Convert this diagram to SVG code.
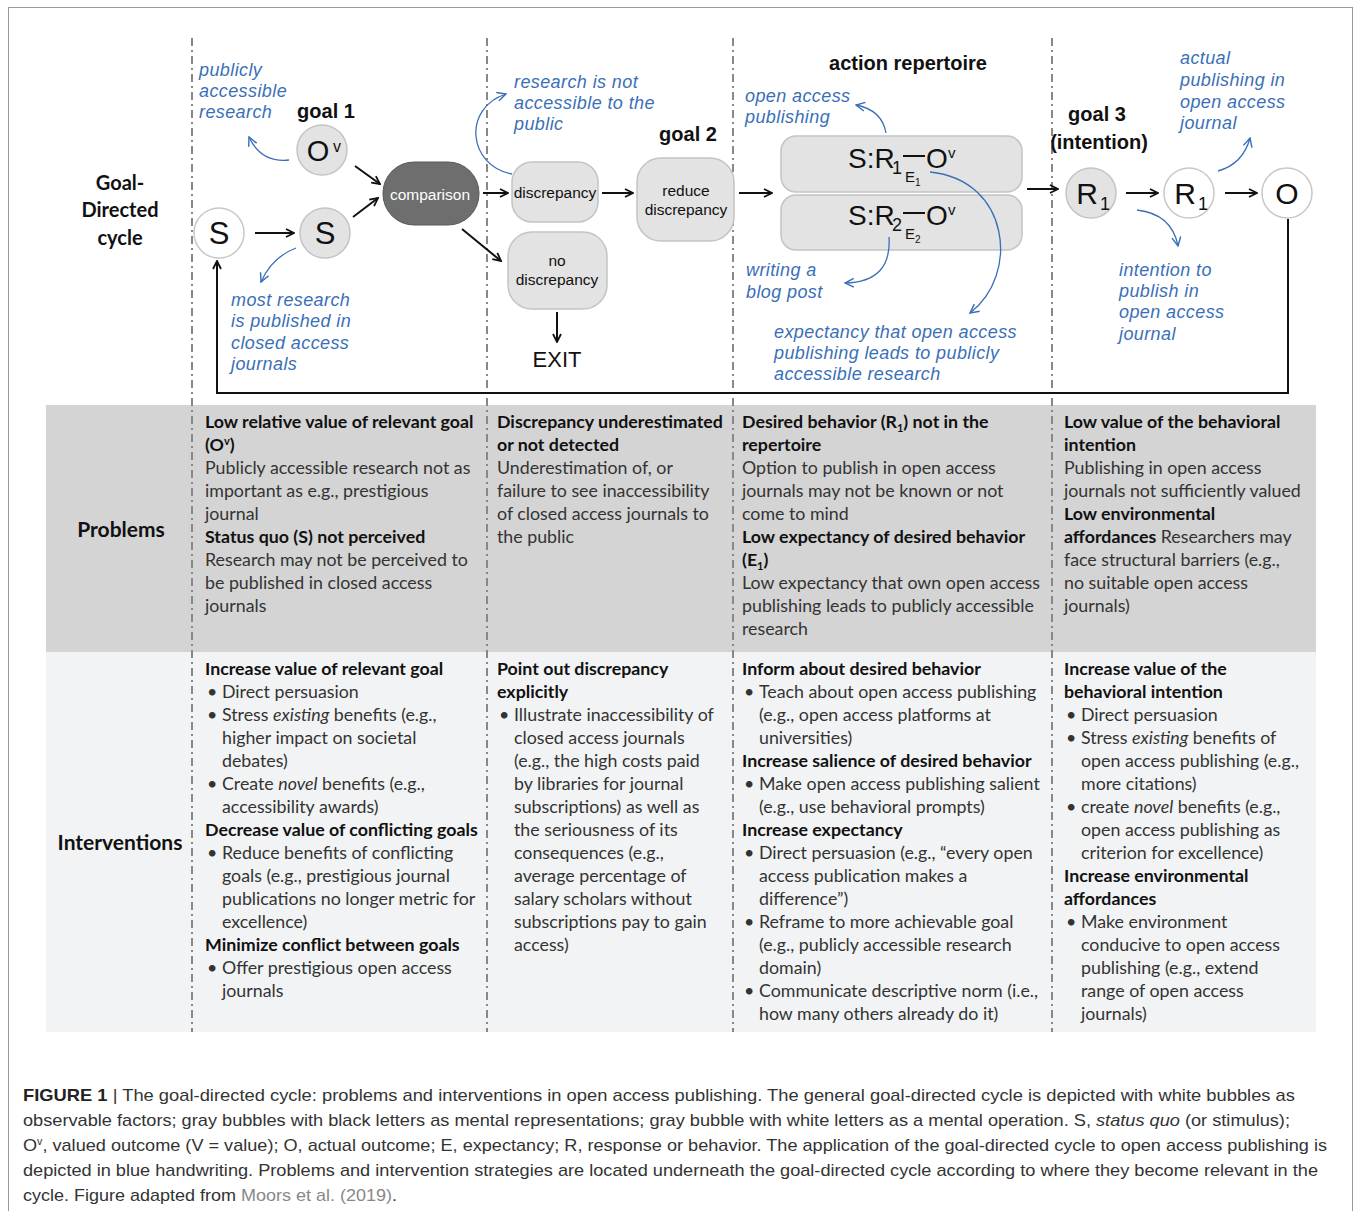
<svg xmlns="http://www.w3.org/2000/svg" width="1356" height="1211" viewBox="0 0 1356 1211">
<defs>
<style>
.t{font-family:Lato,"Open Sans",sans-serif;font-size:17.8px;fill:#333}
.b{font-weight:bold;fill:#111}
.lbl{font-family:Lato,"Open Sans",sans-serif;font-weight:bold;font-size:21px;fill:#111}
.h{font-family:"Liberation Sans",Arial,sans-serif;fill:#111}
.hb{font-family:"Liberation Sans",Arial,sans-serif;font-weight:bold;fill:#111}
.blue{font-family:"Liberation Sans",Arial,sans-serif;font-style:italic;font-size:18px;letter-spacing:0.4px;fill:#3a6fb8}
.cap{font-family:"Liberation Sans",Arial,sans-serif;font-size:17px;fill:#333}
.dash{stroke:#888;stroke-width:2;stroke-dasharray:8 4 2 4;fill:none}
.wc{fill:#fff;stroke:#c8c8c8;stroke-width:1.5}
.gc{fill:#e3e3e3;stroke:#c4c4c4;stroke-width:1.5}
.con{stroke:#111;stroke-width:2;fill:none;marker-end:url(#ah)}
.bc{stroke:#3a6fb8;stroke-width:1.3;fill:none;marker-end:url(#bh)}
</style>
<marker id="ah" viewBox="0 0 10 10" refX="9" refY="5" markerWidth="10" markerHeight="10" markerUnits="userSpaceOnUse" orient="auto"><path d="M1,1 L9,5 L1,9" fill="none" stroke="#111" stroke-width="1.8"/></marker>
<marker id="bh" viewBox="0 0 10 10" refX="9" refY="5" markerWidth="11" markerHeight="11" markerUnits="userSpaceOnUse" orient="auto"><path d="M1,1 L9,5 L1,9" fill="none" stroke="#3a6fb8" stroke-width="1.3"/></marker>
</defs>
<rect x="0" y="0" width="1356" height="1211" fill="#fff"/>
<rect x="8.5" y="7.5" width="1344" height="1220" fill="none" stroke="#999" stroke-width="1"/>
<!-- bands -->
<rect x="46" y="405" width="1270" height="247" fill="#d4d4d4"/>
<rect x="46" y="652" width="1270" height="380" fill="#f2f3f4"/>
<!-- dashed column separators -->
<g id="separators">
<line class="dash" x1="192" y1="38" x2="192" y2="1032"/>
<line class="dash" x1="487" y1="38" x2="487" y2="1032"/>
<line class="dash" x1="733" y1="38" x2="733" y2="1032"/>
<line class="dash" x1="1052" y1="38" x2="1052" y2="1032"/>
</g>
<!-- row labels -->
<g id="row-labels">
<text class="lbl" text-anchor="middle" x="120" y="190" style="font-size:20px">Goal-</text>
<text class="lbl" text-anchor="middle" x="120" y="217" style="font-size:20px">Directed</text>
<text class="lbl" text-anchor="middle" x="120" y="245" style="font-size:20px">cycle</text>
<text class="lbl" text-anchor="middle" x="121" y="537">Problems</text>
<text class="lbl" text-anchor="middle" x="120" y="850">Interventions</text>
</g>
<!-- headings -->
<g id="headings">
<text class="hb" x="326" y="118" font-size="20" text-anchor="middle">goal 1</text>
<text class="hb" x="688" y="141" font-size="20" text-anchor="middle">goal 2</text>
<text class="hb" x="908" y="70" font-size="20" text-anchor="middle">action repertoire</text>
<text class="hb" x="1097" y="121" font-size="20" text-anchor="middle">goal 3</text>
<text class="hb" x="1099" y="149" font-size="20" text-anchor="middle">(intention)</text>
</g>
<!-- nodes -->
<g id="node-S-world"><circle class="wc" cx="219" cy="233" r="25"/><text class="h" x="219" y="244" font-size="31" text-anchor="middle">S</text></g>
<g id="node-S-mental"><circle class="gc" cx="325" cy="233" r="25"/><text class="h" x="325" y="244" font-size="31" text-anchor="middle">S</text></g>
<g id="node-Ov"><circle class="gc" cx="322" cy="150" r="25"/><text class="h" x="318" y="161" font-size="29" text-anchor="middle">O</text><text class="h" x="333" y="152" font-size="16">v</text></g>
<g id="node-comparison"><rect x="383" y="162" width="96" height="63" rx="31" fill="#6e6e6e" stroke="#5a5a5a" stroke-width="1"/><text class="h" x="430" y="200" font-size="15.5" text-anchor="middle" style="fill:#fff">comparison</text></g>
<g id="node-discrepancy"><rect x="512" y="162" width="86" height="60" rx="20" class="gc"/><text class="h" x="555" y="198" font-size="15.5" text-anchor="middle">discrepancy</text></g>
<g id="node-no-discrepancy"><rect x="508" y="232" width="99" height="77" rx="24" class="gc"/><text class="h" x="557" y="266" font-size="15.5" text-anchor="middle">no</text><text class="h" x="557" y="285" font-size="15.5" text-anchor="middle">discrepancy</text></g>
<g id="node-exit"><text class="h" x="557" y="367" font-size="22" text-anchor="middle">EXIT</text></g>
<g id="node-reduce"><rect x="637" y="158" width="97" height="83" rx="24" class="gc"/><text class="h" x="686" y="196" font-size="15.5" text-anchor="middle">reduce</text><text class="h" x="686" y="215" font-size="15.5" text-anchor="middle">discrepancy</text></g>
<g id="node-SR1">
<rect x="781" y="136" width="241" height="56" rx="15" class="gc"/>
<text class="h" x="848" y="168" font-size="28">S:R</text>
<text class="h" x="892" y="174" font-size="18">1</text>
<line x1="903" y1="156" x2="925" y2="156" stroke="#111" stroke-width="2"/>
<text class="h" x="926" y="168" font-size="28">O</text>
<text class="h" x="948" y="158" font-size="15">v</text>
<text class="h" x="905" y="182" font-size="15">E</text>
<text class="h" x="915" y="186" font-size="10">1</text>
</g>
<g id="node-SR2">
<rect x="781" y="195" width="241" height="55" rx="15" class="gc"/>
<text class="h" x="848" y="225" font-size="28">S:R</text>
<text class="h" x="892" y="231" font-size="18">2</text>
<line x1="903" y1="213" x2="925" y2="213" stroke="#111" stroke-width="2"/>
<text class="h" x="926" y="225" font-size="28">O</text>
<text class="h" x="948" y="215" font-size="15">v</text>
<text class="h" x="905" y="239" font-size="15">E</text>
<text class="h" x="915" y="243" font-size="10">2</text>
</g>
<g id="node-R1-intention"><circle class="gc" cx="1091" cy="193" r="25"/><text class="h" x="1087" y="204" font-size="30" text-anchor="middle">R</text><text class="h" x="1100" y="210" font-size="18">1</text></g>
<g id="node-R1-behavior"><circle class="wc" cx="1189" cy="193" r="25"/><text class="h" x="1185" y="204" font-size="30" text-anchor="middle">R</text><text class="h" x="1198" y="210" font-size="18">1</text></g>
<g id="node-O"><circle class="wc" cx="1287" cy="193" r="25"/><text class="h" x="1287" y="204" font-size="30" text-anchor="middle">O</text></g>
<!-- connectors -->
<g id="connectors">
<line class="con" x1="255" y1="233" x2="294" y2="233"/>
<line class="con" x1="355" y1="166" x2="380" y2="184"/>
<line class="con" x1="353" y1="217" x2="378" y2="198"/>
<line class="con" x1="483" y1="193" x2="508" y2="193"/>
<line class="con" x1="462" y1="229" x2="501" y2="261"/>
<line class="con" x1="602" y1="193" x2="633" y2="193"/>
<line class="con" x1="557" y1="312" x2="557" y2="342"/>
<line class="con" x1="739" y1="193" x2="772" y2="193"/>
<line class="con" x1="1027" y1="189" x2="1058" y2="189"/>
<line class="con" x1="1126" y1="193" x2="1158" y2="193"/>
<line class="con" x1="1225" y1="193" x2="1257" y2="193"/>
<path class="con" d="M1288,219 V393 H217 V261"/>
<!-- blue annotation arrows -->
<path class="bc" d="M289,160 Q261,163 249,137"/>
<path class="bc" d="M296,248 Q272,257 261,282"/>
<path class="bc" d="M512,174 C468,166 462,108 506,94"/>
<path class="bc" d="M886,133 Q882,110 856,105"/>
<path class="bc" d="M889,237 Q892,282 845,283"/>
<path class="bc" d="M930,172 C1010,180 1020,275 970,313"/>
<path class="bc" d="M1218,171 Q1243,164 1250,138"/>
<path class="bc" d="M1137,210 Q1172,214 1178,246"/>
</g>
<!-- blue handwriting -->
<g id="annotations">
<text class="blue" x="199" y="76">publicly</text>
<text class="blue" x="199" y="97">accessible</text>
<text class="blue" x="199" y="118">research</text>
<text class="blue" x="231" y="306">most research</text>
<text class="blue" x="231" y="327">is published in</text>
<text class="blue" x="231" y="349">closed access</text>
<text class="blue" x="231" y="370">journals</text>
<text class="blue" x="514" y="88">research is not</text>
<text class="blue" x="514" y="109">accessible to the</text>
<text class="blue" x="514" y="130">public</text>
<text class="blue" x="745" y="102">open access</text>
<text class="blue" x="745" y="123">publishing</text>
<text class="blue" x="746" y="276">writing a</text>
<text class="blue" x="746" y="298">blog post</text>
<text class="blue" x="774" y="338">expectancy that open access</text>
<text class="blue" x="774" y="359">publishing leads to publicly</text>
<text class="blue" x="774" y="380">accessible research</text>
<text class="blue" x="1180" y="64">actual</text>
<text class="blue" x="1180" y="86">publishing in</text>
<text class="blue" x="1180" y="108">open access</text>
<text class="blue" x="1180" y="129">journal</text>
<text class="blue" x="1119" y="276">intention to</text>
<text class="blue" x="1119" y="297">publish in</text>
<text class="blue" x="1119" y="318">open access</text>
<text class="blue" x="1119" y="340">journal</text>
</g>
<!-- problems -->
<g id="problems">
<text class="t b" x="205" y="428">Low relative value of relevant goal</text>
<text class="t b" x="205" y="451">(O<tspan font-size="11" dy="-6">v</tspan><tspan dy="6">)</tspan></text>
<text class="t" x="205" y="474">Publicly accessible research not as</text>
<text class="t" x="205" y="497">important as e.g., prestigious</text>
<text class="t" x="205" y="520">journal</text>
<text class="t b" x="205" y="543">Status quo (S) not perceived</text>
<text class="t" x="205" y="566">Research may not be perceived to</text>
<text class="t" x="205" y="589">be published in closed access</text>
<text class="t" x="205" y="612">journals</text>

<text class="t b" x="497" y="428">Discrepancy underestimated</text>
<text class="t b" x="497" y="451">or not detected</text>
<text class="t" x="497" y="474">Underestimation of, or</text>
<text class="t" x="497" y="497">failure to see inaccessibility</text>
<text class="t" x="497" y="520">of closed access journals to</text>
<text class="t" x="497" y="543">the public</text>

<text class="t b" x="742" y="428">Desired behavior (R<tspan font-size="11" dy="4">1</tspan><tspan dy="-4">) not in the</tspan></text>
<text class="t b" x="742" y="451">repertoire</text>
<text class="t" x="742" y="474">Option to publish in open access</text>
<text class="t" x="742" y="497">journals may not be known or not</text>
<text class="t" x="742" y="520">come to mind</text>
<text class="t b" x="742" y="543">Low expectancy of desired behavior</text>
<text class="t b" x="742" y="566">(E<tspan font-size="11" dy="4">1</tspan><tspan dy="-4">)</tspan></text>
<text class="t" x="742" y="589">Low expectancy that own open access</text>
<text class="t" x="742" y="612">publishing leads to publicly accessible</text>
<text class="t" x="742" y="635">research</text>

<text class="t b" x="1064" y="428">Low value of the behavioral</text>
<text class="t b" x="1064" y="451">intention</text>
<text class="t" x="1064" y="474">Publishing in open access</text>
<text class="t" x="1064" y="497">journals not sufficiently valued</text>
<text class="t b" x="1064" y="520">Low environmental</text>
<text class="t" x="1064" y="543"><tspan font-weight="bold" fill="#111">affordances</tspan> Researchers may</text>
<text class="t" x="1064" y="566">face structural barriers (e.g.,</text>
<text class="t" x="1064" y="589">no suitable open access</text>
<text class="t" x="1064" y="612">journals)</text>
</g>
<!-- interventions -->
<g id="interventions">
<text class="t b" x="205" y="675">Increase value of relevant goal</text>
<text class="t" x="207" y="698">•</text><text class="t" x="222" y="698">Direct persuasion</text>
<text class="t" x="207" y="721">•</text><text class="t" x="222" y="721">Stress <tspan font-style="italic">existing</tspan> benefits (e.g.,</text>
<text class="t" x="222" y="744">higher impact on societal</text>
<text class="t" x="222" y="767">debates)</text>
<text class="t" x="207" y="790">•</text><text class="t" x="222" y="790">Create <tspan font-style="italic">novel</tspan> benefits (e.g.,</text>
<text class="t" x="222" y="813">accessibility awards)</text>
<text class="t b" x="205" y="836">Decrease value of conflicting goals</text>
<text class="t" x="207" y="859">•</text><text class="t" x="222" y="859">Reduce benefits of conflicting</text>
<text class="t" x="222" y="882">goals (e.g., prestigious journal</text>
<text class="t" x="222" y="905">publications no longer metric for</text>
<text class="t" x="222" y="928">excellence)</text>
<text class="t b" x="205" y="951">Minimize conflict between goals</text>
<text class="t" x="207" y="974">•</text><text class="t" x="222" y="974">Offer prestigious open access</text>
<text class="t" x="222" y="997">journals</text>

<text class="t b" x="497" y="675">Point out discrepancy</text>
<text class="t b" x="497" y="698">explicitly</text>
<text class="t" x="499" y="721">•</text><text class="t" x="514" y="721">Illustrate inaccessibility of</text>
<text class="t" x="514" y="744">closed access journals</text>
<text class="t" x="514" y="767">(e.g., the high costs paid</text>
<text class="t" x="514" y="790">by libraries for journal</text>
<text class="t" x="514" y="813">subscriptions) as well as</text>
<text class="t" x="514" y="836">the seriousness of its</text>
<text class="t" x="514" y="859">consequences (e.g.,</text>
<text class="t" x="514" y="882">average percentage of</text>
<text class="t" x="514" y="905">salary scholars without</text>
<text class="t" x="514" y="928">subscriptions pay to gain</text>
<text class="t" x="514" y="951">access)</text>

<text class="t b" x="742" y="675">Inform about desired behavior</text>
<text class="t" x="744" y="698">•</text><text class="t" x="759" y="698">Teach about open access publishing</text>
<text class="t" x="759" y="721">(e.g., open access platforms at</text>
<text class="t" x="759" y="744">universities)</text>
<text class="t b" x="742" y="767">Increase salience of desired behavior</text>
<text class="t" x="744" y="790">•</text><text class="t" x="759" y="790">Make open access publishing salient</text>
<text class="t" x="759" y="813">(e.g., use behavioral prompts)</text>
<text class="t b" x="742" y="836">Increase expectancy</text>
<text class="t" x="744" y="859">•</text><text class="t" x="759" y="859">Direct persuasion (e.g., “every open</text>
<text class="t" x="759" y="882">access publication makes a</text>
<text class="t" x="759" y="905">difference”)</text>
<text class="t" x="744" y="928">•</text><text class="t" x="759" y="928">Reframe to more achievable goal</text>
<text class="t" x="759" y="951">(e.g., publicly accessible research</text>
<text class="t" x="759" y="974">domain)</text>
<text class="t" x="744" y="997">•</text><text class="t" x="759" y="997">Communicate descriptive norm (i.e.,</text>
<text class="t" x="759" y="1020">how many others already do it)</text>

<text class="t b" x="1064" y="675">Increase value of the</text>
<text class="t b" x="1064" y="698">behavioral intention</text>
<text class="t" x="1066" y="721">•</text><text class="t" x="1081" y="721">Direct persuasion</text>
<text class="t" x="1066" y="744">•</text><text class="t" x="1081" y="744">Stress <tspan font-style="italic">existing</tspan> benefits of</text>
<text class="t" x="1081" y="767">open access publishing (e.g.,</text>
<text class="t" x="1081" y="790">more citations)</text>
<text class="t" x="1066" y="813">•</text><text class="t" x="1081" y="813">create <tspan font-style="italic">novel</tspan> benefits (e.g.,</text>
<text class="t" x="1081" y="836">open access publishing as</text>
<text class="t" x="1081" y="859">criterion for excellence)</text>
<text class="t b" x="1064" y="882">Increase environmental</text>
<text class="t b" x="1064" y="905">affordances</text>
<text class="t" x="1066" y="928">•</text><text class="t" x="1081" y="928">Make environment</text>
<text class="t" x="1081" y="951">conducive to open access</text>
<text class="t" x="1081" y="974">publishing (e.g., extend</text>
<text class="t" x="1081" y="997">range of open access</text>
<text class="t" x="1081" y="1020">journals)</text>
</g>
<!-- caption -->
<g id="caption">
<text class="cap" x="23" y="1101" textLength="1272" lengthAdjust="spacingAndGlyphs"><tspan font-weight="bold" fill="#222">FIGURE 1</tspan> | The goal-directed cycle: problems and interventions in open access publishing. The general goal-directed cycle is depicted with white bubbles as</text>
<text class="cap" x="23" y="1126" textLength="1267" lengthAdjust="spacingAndGlyphs">observable factors; gray bubbles with black letters as mental representations; gray bubble with white letters as a mental operation. S, <tspan font-style="italic">status quo</tspan> (or stimulus);</text>
<text class="cap" x="23" y="1151" textLength="1304" lengthAdjust="spacingAndGlyphs">O<tspan font-size="10" dy="-6">v</tspan><tspan dy="6">, valued outcome (V = value); O, actual outcome; E, expectancy; R, response or behavior. The application of the goal-directed cycle to open access publishing is</tspan></text>
<text class="cap" x="23" y="1176" textLength="1295" lengthAdjust="spacingAndGlyphs">depicted in blue handwriting. Problems and intervention strategies are located underneath the goal-directed cycle according to where they become relevant in the</text>
<text class="cap" x="23" y="1201" textLength="374" lengthAdjust="spacingAndGlyphs">cycle. Figure adapted from <tspan fill="#888">Moors et al. (2019)</tspan>.</text>
</g>
</svg>
